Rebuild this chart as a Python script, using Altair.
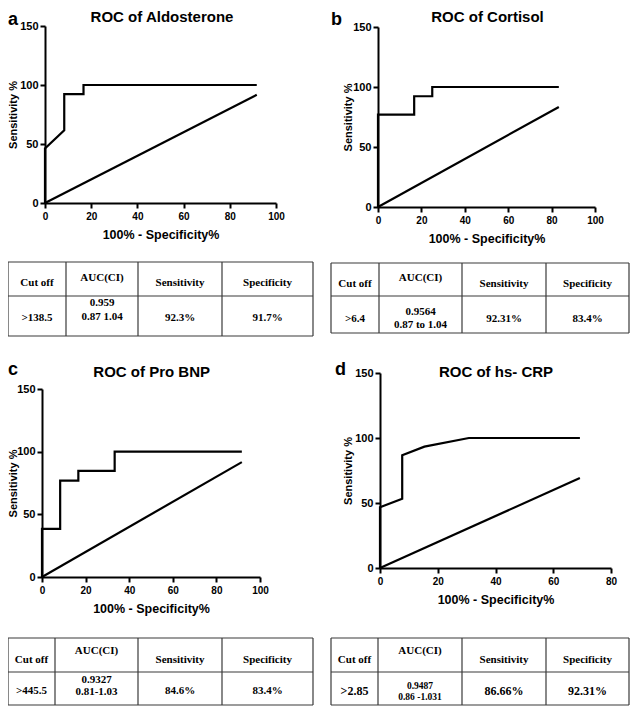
import altair as alt
import pandas as pd

# ---------------- data ----------------
# ROC curves (x = 100% - Specificity%, y = Sensitivity %)
a_fpr = [0, 0, 8.33, 8.33, 16.67, 16.67, 91.67]
a_sens = [0, 46.15, 61.54, 92.31, 92.31, 100, 100]
a_diag = [0, 91.67]

b_fpr = [0, 0, 16.67, 16.67, 25.0, 25.0, 83.33]
b_sens = [0, 76.92, 76.92, 92.31, 92.31, 100, 100]
b_diag = [0, 83.33]

c_fpr = [0, 0, 8.33, 8.33, 16.67, 16.67, 33.33, 33.33, 91.67]
c_sens = [0, 38.46, 38.46, 76.92, 76.92, 84.62, 84.62, 100, 100]
c_diag = [0, 91.67]

d_fpr = [0, 0, 7.69, 7.69, 15.38, 30.77, 69.23]
d_sens = [0, 46.67, 53.33, 86.67, 93.33, 100, 100]
d_diag = [0, 69.23]

titles = ["ROC of Aldosterone", "ROC of Cortisol", "ROC of Pro BNP", "ROC of hs- CRP"]
letters = ["a", "b", "c", "d"]
x_ticks_100 = [0, 20, 40, 60, 80, 100]
x_ticks_80 = [0, 20, 40, 60, 80]
y_ticks = [0, 50, 100, 150]

header = ["Cut off", "AUC(CI)", "Sensitivity", "Specificity"]
cutoffs = [">138.5", ">6.4", ">445.5", ">2.85"]
aucs = ["0.959", "0.9564", "0.9327", "0.9487"]
cis = ["0.87 1.04", "0.87 to 1.04", "0.81-1.03", "0.86 -1.031"]
sens_txt = ["92.3%", "92.31%", "84.6%", "86.66%"]
spec_txt = ["91.7%", "83.4%", "83.4%", "92.31%"]

X_TITLE = "100% - Specificity%"
Y_TITLE = "Sensitivity %"

# ---------------- layout (pixels, relative to each panel) ----------------
SANS = "Liberation Sans"
SERIF = "Liberation Serif"
W = 231


def roc_panel(fpr, sens, diag, title, letter, xmax, xticks, height,
              dx, dy, xw, yh, title_xy, letter_xy):
    curve = pd.DataFrame({"fpr": fpr, "sens": sens, "i": list(range(len(fpr)))})
    dg = pd.DataFrame({"fpr": diag, "sens": diag, "i": [0, 1]})
    xs = alt.Scale(domain=[0, xmax], range=[dx, dx + xw], nice=False, zero=False)
    ys = alt.Scale(domain=[0, 150], range=[dy + yh, dy], nice=False, zero=False)
    xax = alt.Axis(values=xticks, title=X_TITLE, titleFontSize=12.5,
                   labelFontSize=10, titlePadding=7, labelPadding=3,
                   offset=dy + yh - height)
    yax = alt.Axis(values=y_ticks, title=Y_TITLE, titleFontSize=11,
                   labelFontSize=11, titlePadding=1 + dx, labelPadding=2,
                   offset=-dx)
    enc = dict(
        x=alt.X("fpr:Q", scale=xs, axis=xax),
        y=alt.Y("sens:Q", scale=ys, axis=yax),
        order="i:Q",
    )
    l1 = alt.Chart(curve).mark_line(color="black", strokeWidth=2.2,
                                    strokeJoin="miter").encode(**enc)
    l2 = alt.Chart(dg).mark_line(color="black", strokeWidth=2.2).encode(**enc)
    t = alt.Chart(pd.DataFrame({"t": [title]})).mark_text(
        font=SANS, fontWeight="bold", fontSize=15, align="center",
        baseline="alphabetic", color="black"
    ).encode(text="t:N", x=alt.value(title_xy[0]), y=alt.value(title_xy[1]))
    lt = alt.Chart(pd.DataFrame({"t": [letter]})).mark_text(
        font=SANS, fontWeight="bold", fontSize=18, align="left",
        baseline="alphabetic", color="black"
    ).encode(text="t:N", x=alt.value(letter_xy[0]), y=alt.value(letter_xy[1]))
    return alt.layer(l1, l2, t, lt).properties(width=W, height=height)


def table(k, xe, ye, head_y, auc_head_y, body_y, auc_y, ci_y, height,
          size=11, val_size=11, auc_size=11):
    segs = []
    for y in ye:
        segs.append({"x": xe[0], "x2": xe[-1], "y": y, "y2": y})
    for x in xe:
        segs.append({"x": x, "x2": x, "y": ye[0], "y2": ye[-1]})
    segdf = pd.DataFrame(segs)
    cx = [(xe[i] + xe[i + 1]) / 2 for i in range(4)]
    rows = []
    for i, h in enumerate(header):
        rows.append({"x": cx[i], "y": auc_head_y if i == 1 else head_y, "t": h, "s": size})
    rows.append({"x": cx[0], "y": body_y, "t": cutoffs[k], "s": val_size})
    rows.append({"x": cx[1], "y": auc_y, "t": aucs[k], "s": auc_size})
    rows.append({"x": cx[1], "y": ci_y, "t": cis[k], "s": auc_size})
    rows.append({"x": cx[2], "y": body_y, "t": sens_txt[k], "s": val_size})
    rows.append({"x": cx[3], "y": body_y, "t": spec_txt[k], "s": val_size})
    tdf = pd.DataFrame(rows)
    r = alt.Chart(segdf).mark_rule(color="#3a3a3a", strokeWidth=1.2).encode(
        x=alt.X("x:Q", scale=None, axis=None),
        x2="x2:Q",
        y=alt.Y("y:Q", scale=None, axis=None),
        y2="y2:Q",
    )
    tx = alt.Chart(tdf).mark_text(font=SERIF, fontWeight="bold", baseline="middle",
                                  align="center", color="black").encode(
        x=alt.X("x:Q", scale=None, axis=None),
        y=alt.Y("y:Q", scale=None, axis=None),
        text="t:N",
        size=alt.Size("s:Q", scale=None, legend=None),
    )
    return alt.layer(r, tx).properties(width=W, height=height)


# rows: plots a/b (top 26, h 177), tables (h 170), plots c/d (h 195), tables (h 134)
pa = roc_panel(a_fpr, a_sens, a_diag, titles[0], letters[0], 100, x_ticks_100,
               177, 0, 0, 231, 177, (117, -4), (-37, -1.5))
pb = roc_panel(b_fpr, b_sens, b_diag, titles[1], letters[1], 100, x_ticks_100,
               177, -2, 1, 217, 180, (107.5, -4), (-49, -1.5))
pc = roc_panel(c_fpr, c_sens, c_diag, titles[2], letters[2], 100, x_ticks_100,
               195, -3, 16, 218, 188, (106.7, 4), (-37, 2))
pd_ = roc_panel(d_fpr, d_sens, d_diag, titles[3], letters[3], 80, x_ticks_80,
                195, 0, 0, 231, 195, (116, 4), (-45, 2))

ta = table(0, [-37, 21, 93, 177, 268], [59, 93, 133], 80, 75, 115, 100, 114, 170)
tb = table(1, [-49, -1, 82, 166, 249], [60, 93, 130], 81, 75, 116, 109, 122, 170)
tc = table(2, [-37, 10, 93, 177, 268], [70, 104, 137], 92, 83, 123, 112, 124, 134)
td = table(3, [-49, -2, 82, 166, 249], [70, 104, 137], 92, 83, 123, 118, 129, 134,
           val_size=12, auc_size=9.5)

chart = alt.concat(
    pa, pb, ta, tb, pc, pd_, tc, td,
    columns=2,
    spacing={"row": 0, "column": 104},
    bounds="flush",
).properties(
    autosize=alt.AutoSizeParams(type="none"),
    padding={"left": 37, "top": 18, "right": 585, "bottom": 680},
).configure_view(strokeWidth=0).configure_axis(
    grid=False,
    domainColor="black",
    domainWidth=2,
    tickColor="black",
    tickWidth=2,
    tickSize=5,
    labelFont=SANS,
    labelFontWeight="bold",
    labelColor="black",
    titleFont=SANS,
    titleFontWeight="bold",
    titleColor="black",
    labelFlush=False,
    labelOverlap=False,
)

chart.save("out.html", embed_options={"renderer": "svg", "actions": False})
